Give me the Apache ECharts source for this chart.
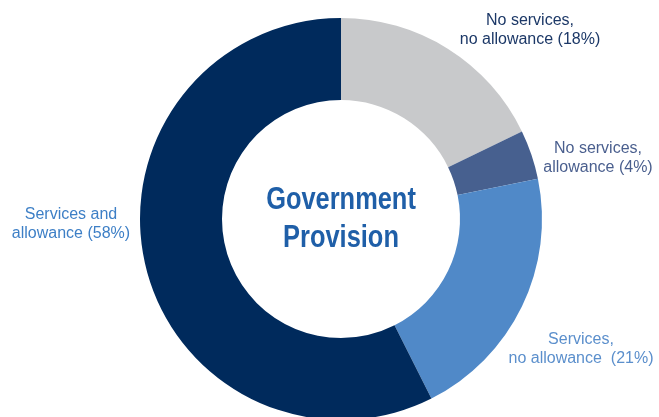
<!DOCTYPE html>
<html>
<head>
<meta charset="utf-8">
<script src="https://cdn.jsdelivr.net/npm/echarts@6/dist/echarts.min.js"></script>
<style>html,body{margin:0;padding:0;background:#fff}#c{width:659px;height:417px}</style>
</head>
<body>
<div id="c"></div>
<script>
const categories = ["No services,\nno allowance (18%)", "No services,\nallowance (4%)", "Services,\nno allowance  (21%)", "Services and\nallowance (58%)"];
const values = [18, 4, 21, 58];
const centerTitle = "Government\nProvision";

const sliceColors = ["#c8c9cb", "#47608f", "#5089c8", "#002a5c"];
const labelColors = ["#1c3867", "#4a5f8e", "#5b8fcc", "#3d7fc6"];
const labelPos = [[530, 30], [598, 158], [581, 349], [71, 224]];

const chart = echarts.init(document.getElementById('c'), null, {renderer: 'canvas'});
chart.setOption({
  animation: false,
  backgroundColor: '#fff',
  graphic: [{
    type: 'text',
    x: 341, y: 219,
    scaleX: 0.82,
    style: {
      text: centerTitle,
      fill: '#1f5fa8',
      font: 'bold 31px "Liberation Sans", Arial, sans-serif',
      align: 'center',
      verticalAlign: 'middle',
      lineHeight: 38
    }
  }],
  series: [{
    type: 'pie',
    center: [341, 219],
    radius: [119, 201],
    startAngle: 90,
    clockwise: true,
    avoidLabelOverlap: false,
    silent: true,
    data: categories.map((n, i) => ({
      name: n,
      value: values[i],
      itemStyle: {color: sliceColors[i]},
      label: {color: labelColors[i]}
    })),
    label: {
      show: true,
      formatter: '{b}',
      fontFamily: '"Liberation Sans", Arial, sans-serif',
      fontSize: 16,
      lineHeight: 19,
      align: 'center'
    },
    labelLine: {show: false},
    labelLayout: function (p) {
      const pos = labelPos[p.dataIndex];
      return {x: pos[0], y: pos[1], align: 'center', verticalAlign: 'middle'};
    }
  }]
});
</script>
</body>
</html>
